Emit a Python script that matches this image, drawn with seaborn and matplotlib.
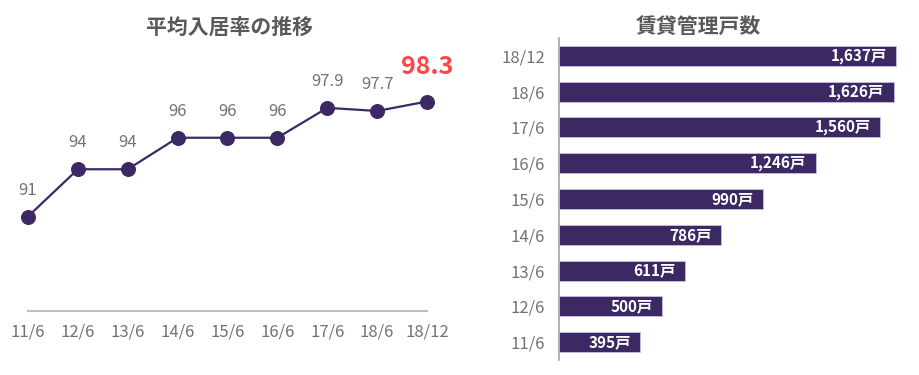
import matplotlib
matplotlib.use('Agg')
import matplotlib.pyplot as plt
import seaborn as sns
import pandas as pd

# =============================================================================
# Data
# =============================================================================
occ_dates = ['11/6', '12/6', '13/6', '14/6', '15/6', '16/6', '17/6', '18/6', '18/12']
occ_rate = [91, 94, 94, 96, 96, 96, 97.9, 97.7, 98.3]
occ_labels = ['91', '94', '94', '96', '96', '96', '97.9', '97.7', '98.3']

unit_dates = ['18/12', '18/6', '17/6', '16/6', '15/6', '14/6', '13/6', '12/6', '11/6']
unit_counts = [1637, 1626, 1560, 1246, 990, 786, 611, 500, 395]

purple = '#3c2862'
gray_txt = '#767171'
title_col = '#595959'

sns.set_theme(style='white')
plt.rcParams['font.family'] = ['Noto Sans CJK JP', 'DejaVu Sans']

fig = plt.figure(figsize=(9.2, 3.75), dpi=100)
ax1 = fig.add_axes([28/920, 64/375, 399/920, 266/375])
ax2 = fig.add_axes([559/920, 15/375, 341/920, 322/375])

# =============================================================================
# Left: line chart
# =============================================================================
occ_df = pd.DataFrame({'x': range(len(occ_dates)), 'rate': occ_rate})
sns.lineplot(data=occ_df, x='x', y='rate', ax=ax1, color=purple, linewidth=1.6,
             marker='o', markersize=10, markeredgecolor=purple, clip_on=False)
for ln in ax1.lines:
    ln.set_clip_on(False)

for i, (v, lab) in enumerate(zip(occ_rate, occ_labels)):
    if i == len(occ_rate) - 1:
        ax1.annotate(lab, xy=(i, v), xytext=(0, 25), textcoords='offset points',
                     ha='center', va='center', fontsize=18, fontweight='bold',
                     color='#ff4545')
    else:
        ax1.annotate(lab, xy=(i, v), xytext=(0, 19), textcoords='offset points',
                     ha='center', va='center', fontsize=12, color=gray_txt)

ax1.set_xlim(0, 8)
ax1.set_ylim(85, 85 + 266/15.75)
ax1.set_xticks(range(len(occ_dates)))
ax1.set_xticklabels(occ_dates)
ax1.set_yticks([])
ax1.set_xlabel('')
ax1.set_ylabel('')
ax1.tick_params(axis='x', length=0, pad=9, labelsize=12, labelcolor=gray_txt)
for s in ['top', 'right', 'left']:
    ax1.spines[s].set_visible(False)
ax1.spines['bottom'].set_color('#bfbfbf')
ax1.spines['bottom'].set_linewidth(1.5)
fig.text(230/920, 1 - 27/375, '平均入居率の推移', ha='center', va='center',
         fontsize=15, fontweight='bold', color=title_col)

# =============================================================================
# Right: horizontal bar chart
# =============================================================================
unit_df = pd.DataFrame({'date': unit_dates, 'units': unit_counts})
sns.barplot(data=unit_df, y='date', x='units', order=unit_dates, ax=ax2,
            color=purple, saturation=1, width=0.56, orient='h',
            edgecolor='#c9bfe0', linewidth=0.6)

for i, v in enumerate(unit_counts):
    ax2.annotate(f'{v:,}戸', xy=(v, i), xytext=(-7, 0), textcoords='offset points',
                 ha='right', va='center', fontsize=11, fontweight='bold', color='white')

ax2.set_xlim(0, 1655)
ax2.set_ylim(8.5, -0.5)
ax2.set_xticks([])
ax2.set_xlabel('')
ax2.set_ylabel('')
ax2.tick_params(axis='y', length=0, pad=10, labelsize=12, labelcolor=gray_txt)
for s in ['top', 'right', 'bottom']:
    ax2.spines[s].set_visible(False)
ax2.spines['left'].set_color('#a6a6a6')
ax2.spines['left'].set_linewidth(1.2)
fig.text(698/920, 1 - 27/375, '賃貸管理戸数', ha='center', va='center',
         fontsize=15, fontweight='bold', color=title_col)

fig.savefig('out.png', dpi=100, facecolor='white')
